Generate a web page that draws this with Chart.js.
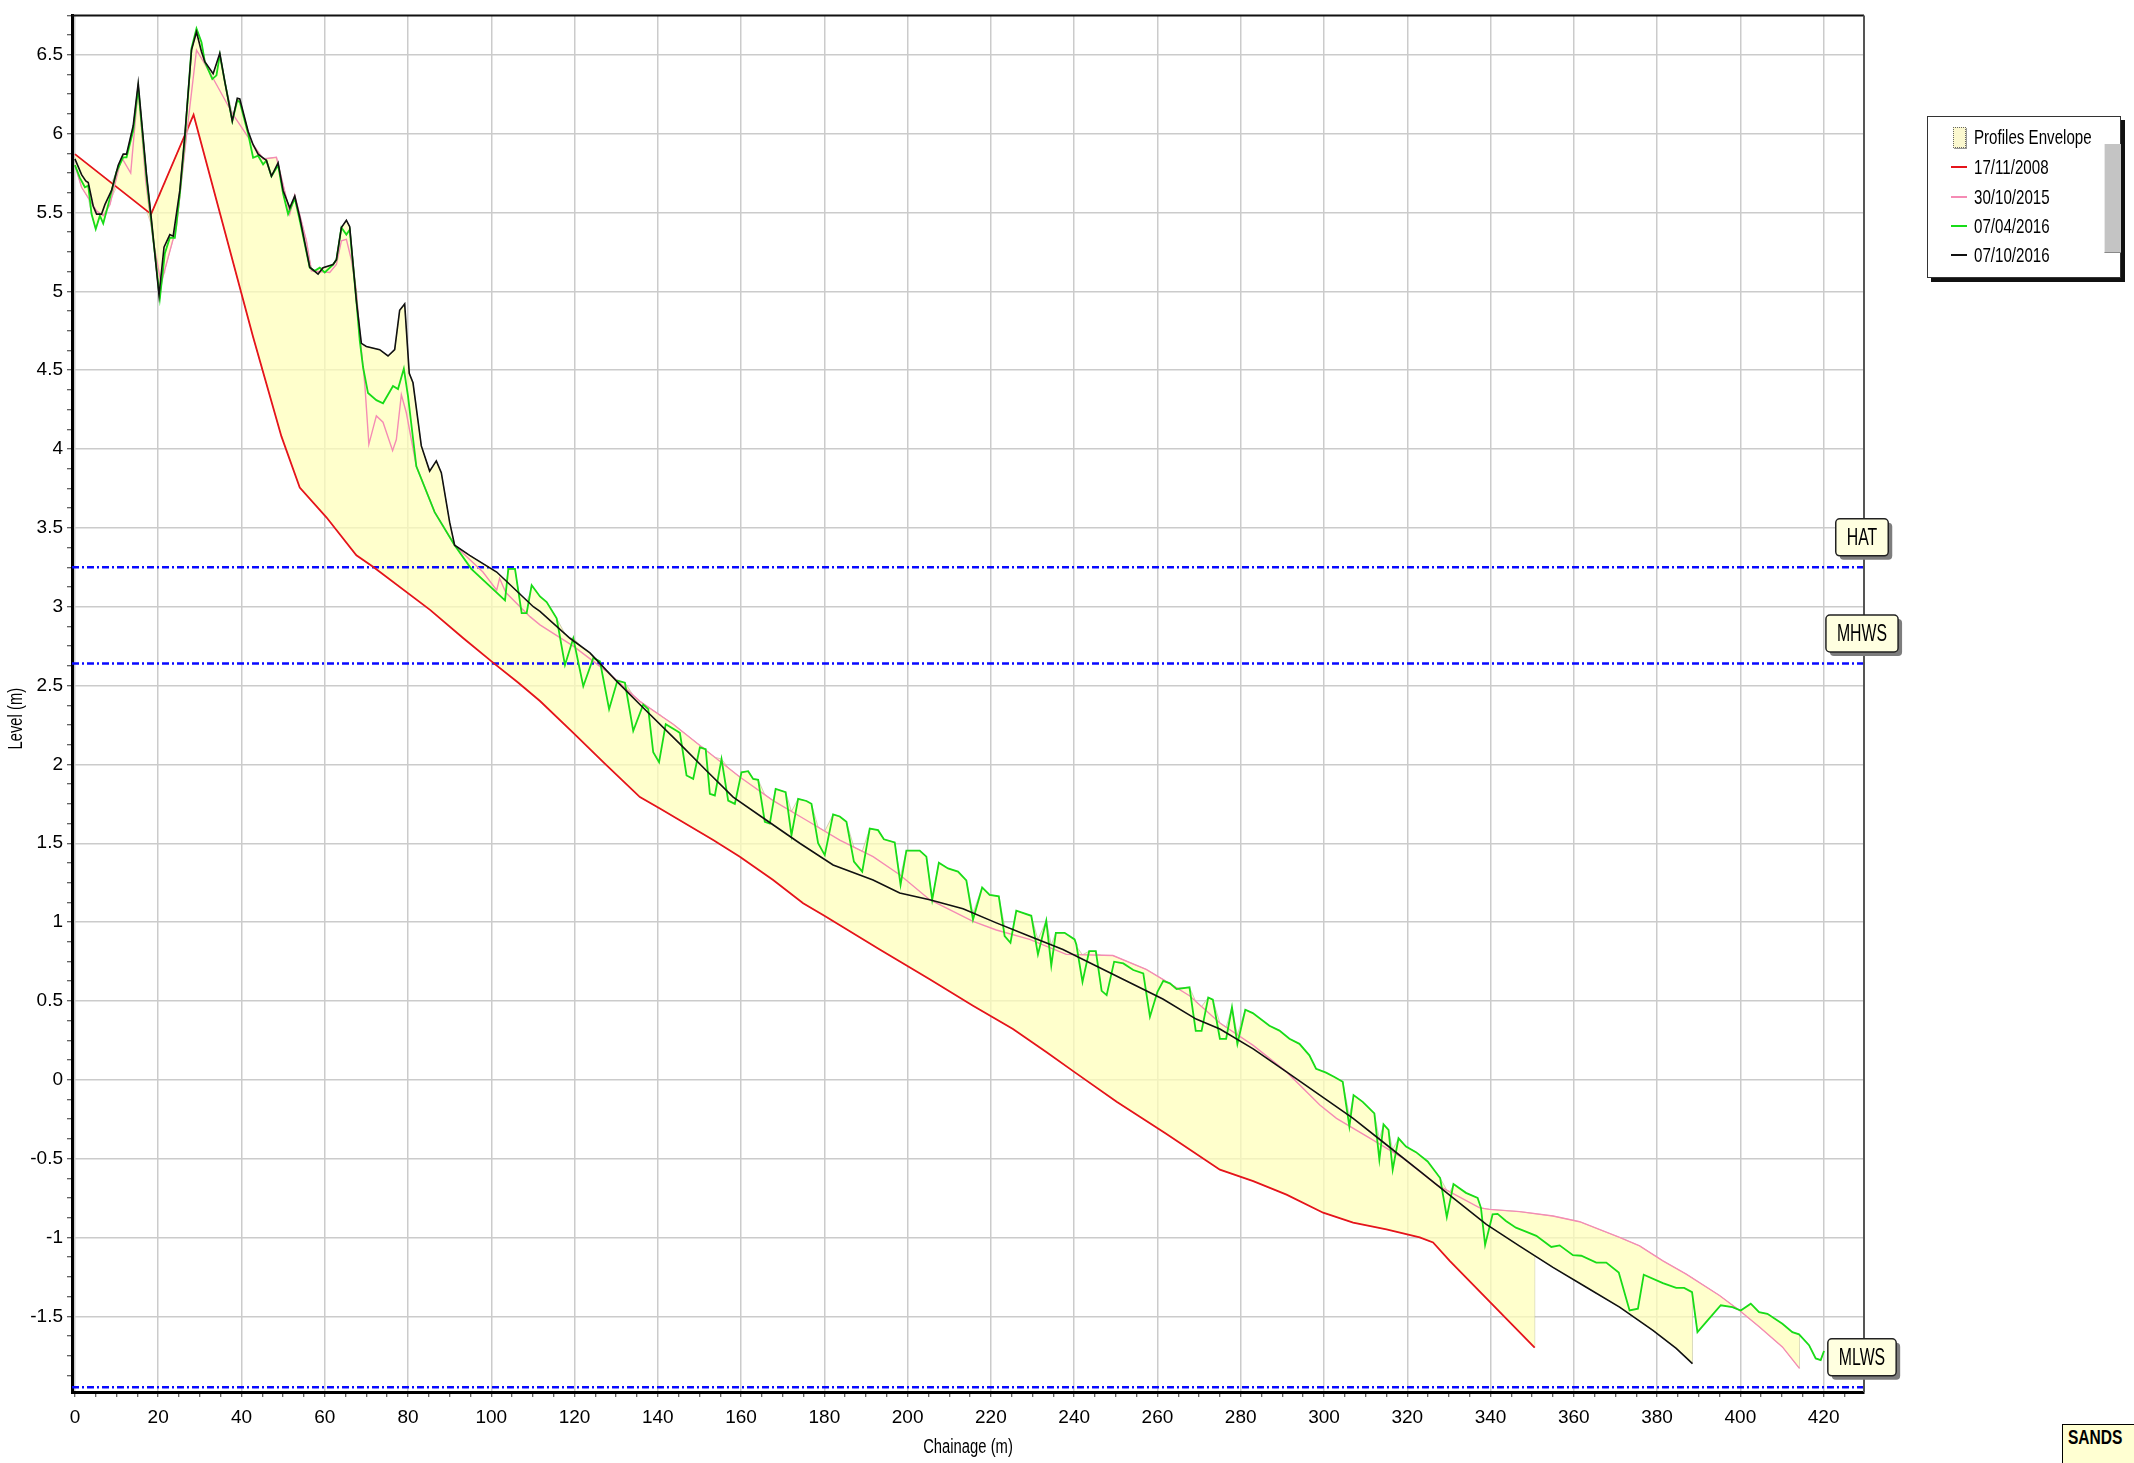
<!DOCTYPE html>
<html>
<head>
<meta charset="utf-8">
<title>Profiles Envelope</title>
<script src="https://cdn.jsdelivr.net/npm/chart.js@4.4.1/dist/chart.umd.min.js"></script>
<style>
  html, body { margin: 0; padding: 0; background: #fff; overflow: hidden; }
  #wrap { position: relative; width: 2134px; height: 1463px; overflow: hidden; }
  #chart { position: absolute; left: 0; top: 0; }
  .legend {
    position: absolute; left: 1927px; top: 116px; width: 192px; height: 160px;
    background: #fff; border: 1.5px solid #333; box-shadow: 4px 4px 0 #111;
    font: 21px 'Liberation Sans', Arial, sans-serif; color: #000;
  }
  .legend .row { position: absolute; left: 0; width: 190px; height: 26px; line-height: 26px; white-space: nowrap; }
  .legend .txt { position: absolute; left: 46px; top: 0; transform: scaleX(0.72); transform-origin: 0 50%; }
  .legend .line { position: absolute; left: 23px; top: 12px; width: 16px; height: 1.5px; }
  .legend .swatch {
    position: absolute; left: 25px; top: 3px; width: 11px; height: 19px;
    background: #fbf8cf; border: 1px dotted #666; box-shadow: 1px 1px 0 #999;
  }
  .legend .scroll {
    position: absolute; left: 176px; top: 27px; width: 16px; height: 108px;
    background: #c4c4c4; border-left: 1px solid #e8e8e8; border-bottom: 1px solid #888;
  }
  .sands {
    position: absolute; left: 2062px; top: 1424px; width: 90px; height: 44px;
    background: #ffffd2; border: 1.5px solid #000; box-sizing: border-box;
  }
  .sands span {
    position: absolute; left: 5px; top: 0; line-height: 42px;
    font: bold 21px 'Liberation Sans', Arial, sans-serif;
    transform: scaleX(0.74); transform-origin: 0 50%;
  }
</style>
</head>
<body>
<div id="wrap">
  <canvas id="chart" width="2134" height="1463"></canvas>
  <div class="legend" id="legend"></div>
  <div class="sands"><span>SANDS</span></div>
</div>
<script>
const FONT = "'Liberation Sans', Arial, sans-serif";

// Survey profiles: chainage (m) and level (m)
const chainage2008 = [0, 18.3, 28.5, 42.8, 49.6, 54, 60.4, 67.6, 71.6, 85.3, 93.3, 100.5, 106.5, 111.7, 119.7, 126.9,
  135.7, 140.5, 153.3, 159.7, 167.7, 174.9, 180, 193.3, 205.3, 215.7, 225.3, 233.3, 240.6, 250.2, 262, 275, 283, 291,
  299.8, 307, 315, 323, 326.2, 330.2, 350.6];
const level2008 = [5.87, 5.49, 6.12, 4.71, 4.08, 3.756, 3.567, 3.326, 3.253, 2.98, 2.80, 2.644, 2.518, 2.402, 2.20, 2.014,
  1.793, 1.72, 1.52, 1.415, 1.267, 1.12, 1.04, 0.826, 0.637, 0.470, 0.322, 0.176, 0.039, -0.14, -0.34, -0.57, -0.643, -0.728,
  -0.843, -0.906, -0.948, -1.0, -1.032, -1.148, -1.698];

const chainage2015 = [0, 1.6, 5.2, 6.8, 8.4, 11.2, 13.4, 15.2, 17, 18.8, 20.7, 24.4, 26.8, 29.2, 30.8, 33.2, 38, 42.8,
  45.2, 48.4, 50.8, 51.6, 52.8, 55.6, 56.8, 61.2, 62.8, 64, 65.2, 66.4, 67.6, 68.4, 69.6, 70.6, 72.4, 74, 76.3, 77.2,
  78.4, 79.6, 82, 86.4, 91.2, 98, 101.3, 102, 103.5, 109.3, 111.7, 119.7, 127.7, 135.7, 143.7, 151.7, 159.7, 167.7,
  175.7, 183.7, 191.7, 198.1, 205.3, 215.7, 221.3, 229.3, 238.1, 249.3, 257.3, 261.3, 267.7, 275, 283, 291, 299, 303,
  311, 319, 327, 337.4, 339.8, 347, 355, 361.4, 371, 375.8, 381.4, 387, 395, 399.8, 404.6, 410.1, 414.2];
const level2015 = [5.80, 5.66, 5.51, 5.48, 5.55, 5.85, 5.75, 6.29, 5.70, 5.32, 5.05, 5.41, 5.99, 6.53, 6.46, 6.35, 6.12, 5.93,
  5.84, 5.85, 5.59, 5.49, 5.61, 5.32, 5.13, 5.12, 5.17, 5.32, 5.33, 5.20, 5.0, 4.73, 4.42, 4.03, 4.21, 4.17, 3.99, 4.06,
  4.345, 4.23, 3.89, 3.60, 3.39, 3.22, 3.105, 3.18, 3.09, 2.937, 2.885, 2.75, 2.59, 2.40, 2.255, 2.087, 1.92, 1.77,
  1.646, 1.52, 1.415, 1.30, 1.142, 1.005, 0.95, 0.89, 0.795, 0.788, 0.70, 0.637, 0.533, 0.36, 0.218, 0.05, -0.16, -0.245,
  -0.37, -0.497, -0.665, -0.812, -0.822, -0.836, -0.864, -0.90, -1.0, -1.053, -1.148, -1.232, -1.368, -1.463, -1.568, -1.694, -1.83];

const chainageApr16 = [0, 1.2, 2.4, 3.2, 4, 5, 6, 6.8, 8, 10, 11.6, 12.4, 14, 15.2, 17.2, 18.4, 20.4, 21.6, 22.8, 24,
  25.2, 26.4, 28, 29.2, 30.4, 31.2, 33, 34, 34.8, 36, 37.8, 39, 39.6, 41.6, 42.8, 44, 45.2, 46, 47.2, 48.8, 50, 51.2,
  52.8, 54, 56.4, 57.6, 58.8, 60, 62, 62.8, 64, 65.2, 66, 67.6, 68.4, 69.2, 70.4, 72.4, 74, 76.4, 77.6, 79, 80, 82,
  86.4, 91.2, 95.2, 103.3, 104.1, 105.7, 107.3, 108.5, 109.7, 111.7, 113.3, 115.7, 117.7, 119.7, 122.1, 124.5, 126.1,
  128.3, 130.3, 132.1, 134.1, 136.5, 137.7, 138.9, 140.3, 141.9, 144.5, 145.3, 146.9, 148.5, 150.1, 151.5, 152.5,
  153.7, 155.3, 156.9, 158.5, 160.1, 161.7, 162.9, 164.1, 165.7, 166.9, 168.3, 170.7, 172.1, 173.7, 175.7, 176.9,
  178.5, 180.1, 182.1, 183.7, 185.3, 187.1, 189.1, 190.9, 192.9, 194.3, 196.9, 198.3, 199.7, 202.9, 204.5, 205.9,
  207.5, 209.7, 212.1, 214.1, 215.7, 217.9, 219.7, 221.9, 223.3, 224.7, 226.1, 229.7, 231.3, 233.3, 234.5, 235.6,
  237.7, 240.1, 240.5, 242, 243.6, 245.2, 246.6, 247.8, 249.6, 251.8, 254.2, 256.6, 258.2, 260, 261.4, 263, 264.6,
  267.7, 269.2, 270.6, 272.2, 273.3, 275, 276.5, 277.9, 279.2, 281.1, 282.9, 286.9, 289.3, 291.7, 294.1, 296.5, 298.1,
  300.5, 302.5, 304.5, 306.1, 307.1, 309.3, 312.1, 313.3, 314.3, 315.5, 316.5, 317.9, 319.7, 322.1, 324.9, 327.9,
  329.5, 331.1, 334.1, 336.9, 337.7, 338.7, 340.5, 341.7, 343.7, 346.1, 348.5, 351, 354.6, 356.6, 359.8, 361.8, 365.4,
  367.8, 370.8, 373.4, 375.4, 376.8, 381.4, 384.6, 386.5, 388.4, 389.7, 392.5, 395.3, 398.1, 400.1, 402.5, 404.5,
  406.5, 410.1, 412.5, 414.1, 416.5, 418.1, 419.3, 420.1];
const levelApr16 = [5.80, 5.72, 5.66, 5.67, 5.49, 5.395, 5.48, 5.43, 5.55, 5.76, 5.85, 5.85, 6.02, 6.29, 5.72, 5.43, 4.955,
  5.24, 5.34, 5.34, 5.62, 5.97, 6.54, 6.666, 6.58, 6.456, 6.346, 6.37, 6.50, 6.33, 6.08, 6.21, 6.2, 6.0, 5.847, 5.86,
  5.805, 5.83, 5.73, 5.80, 5.62, 5.49, 5.59, 5.45, 5.15, 5.13, 5.15, 5.12, 5.17, 5.2, 5.405, 5.36, 5.39, 4.94, 4.69,
  4.52, 4.355, 4.31, 4.29, 4.40, 4.38, 4.51, 4.335, 3.89, 3.60, 3.39, 3.24, 3.04, 3.24, 3.24, 2.96, 2.96, 3.137, 3.065,
  3.03, 2.927, 2.63, 2.80, 2.496, 2.675, 2.654, 2.35, 2.532, 2.518, 2.213, 2.38, 2.35, 2.077, 2.014, 2.255, 2.213, 2.20,
  1.93, 1.908, 2.108, 2.097, 1.814, 1.803, 2.034, 1.77, 1.75, 1.95, 1.957, 1.908, 1.902, 1.636, 1.625, 1.845, 1.824,
  1.55, 1.782, 1.768, 1.75, 1.50, 1.425, 1.683, 1.67, 1.636, 1.384, 1.32, 1.593, 1.583, 1.525, 1.505, 1.236, 1.453,
  1.453, 1.415, 1.142, 1.377, 1.34, 1.32, 1.264, 1.016, 1.22, 1.173, 1.163, 0.911, 0.869, 1.072, 1.04, 0.795, 1.009,
  0.725, 0.932, 0.932, 0.89, 0.86, 0.621, 0.816, 0.816, 0.564, 0.537, 0.749, 0.738, 0.696, 0.675, 0.40, 0.558, 0.627,
  0.612, 0.575, 0.586, 0.31, 0.31, 0.522, 0.508, 0.26, 0.26, 0.46, 0.228, 0.444, 0.423, 0.343, 0.312, 0.26, 0.228,
  0.155, 0.07, 0.045, 0.018, -0.013, -0.297, -0.097, -0.14, -0.213, -0.507, -0.283, -0.318, -0.57, -0.371, -0.423,
  -0.459, -0.518, -0.623, -0.871, -0.661, -0.717, -0.749, -0.812, -1.047, -0.853, -0.85, -0.895, -0.938, -0.963, -0.99,
  -1.06, -1.05, -1.112, -1.116, -1.159, -1.159, -1.222, -1.463, -1.452, -1.236, -1.29, -1.32, -1.32, -1.347, -1.6,
  -1.515, -1.43, -1.442, -1.463, -1.42, -1.474, -1.484, -1.547, -1.6, -1.614, -1.683, -1.767, -1.778, -1.72];

const chainageOct16 = [0, 1.6, 2.6, 3.2, 4.4, 5.2, 6.4, 7.2, 8.8, 10.4, 11.6, 12.4, 14, 15.2, 17.2, 18.4, 20.2, 21.4,
  22.8, 23.6, 25.2, 26.4, 28, 29.2, 30.4, 31.2, 33.2, 34.8, 36, 37.8, 39, 39.6, 41.6, 42.8, 44, 46, 47.2, 48.8, 50,
  51.6, 52.8, 54, 56.4, 58.4, 59.6, 62, 62.8, 64, 65.2, 66, 67.6, 68.8, 70, 73.2, 75.2, 76.8, 78, 79.2, 80.3, 81.2,
  83.2, 85.2, 86.8, 88, 90, 91.2, 94.8, 101.3, 103.7, 110.1, 111.7, 118.9, 123.7, 130.1, 135.7, 145.3, 151.7, 158.1,
  166.1, 174.1, 182.1, 191.7, 198.1, 205.3, 213.3, 221.3, 229.3, 237.3, 245.3, 253.3, 261.3, 269.3, 275, 283, 291,
  299, 307, 315, 323, 331, 339, 347, 355, 363, 371, 379, 384.6, 388.5];
const levelOct16 = [5.84, 5.74, 5.70, 5.69, 5.54, 5.49, 5.49, 5.55, 5.64, 5.80, 5.87, 5.87, 6.05, 6.32, 5.74, 5.45, 4.975,
  5.28, 5.36, 5.35, 5.64, 5.99, 6.53, 6.645, 6.52, 6.456, 6.38, 6.51, 6.33, 6.08, 6.225, 6.22, 6.015, 5.93, 5.87, 5.83,
  5.73, 5.815, 5.64, 5.53, 5.605, 5.47, 5.153, 5.11, 5.15, 5.17, 5.2, 5.405, 5.45, 5.41, 4.94, 4.67, 4.65, 4.63, 4.59,
  4.63, 4.88, 4.92, 4.48, 4.42, 4.02, 3.86, 3.925, 3.85, 3.536, 3.39, 3.326, 3.22, 3.16, 3.00, 2.97, 2.80, 2.707, 2.528,
  2.38, 2.13, 1.96, 1.793, 1.646, 1.50, 1.362, 1.267, 1.184, 1.142, 1.085, 0.995, 0.91, 0.826, 0.722, 0.617, 0.512,
  0.385, 0.322, 0.196, 0.05, -0.097, -0.245, -0.412, -0.58, -0.749, -0.917, -1.055, -1.19, -1.316, -1.442, -1.589,
  -1.704, -1.80];

// Tidal levels (m)
const refNames = ['HAT', 'MHWS', 'MLWS'];
const refLevels = [3.25, 2.64, -1.95];

// Axis ranges
const xMin = -0.7, xMax = 429.7, yMin = -1.98, yMax = 6.75;

const profiles = [
  { label: '17/11/2008', xs: chainage2008, ys: level2008, color: '#e5141b', width: 1.8, order: 4 },
  { label: '30/10/2015', xs: chainage2015, ys: level2015, color: '#f58bb4', width: 1.4, order: 3 },
  { label: '07/04/2016', xs: chainageApr16, ys: levelApr16, color: '#18dc18', width: 1.8, order: 2 },
  { label: '07/10/2016', xs: chainageOct16, ys: levelOct16, color: '#111111', width: 1.6, order: 1 }
];

const toPoints = (xs, ys) => xs.map((x, i) => ({ x, y: ys[i] }));

// Level of a profile at chainage c, null outside the surveyed range
function levelAt(p, c) {
  const xs = p.xs, ys = p.ys;
  if (c < xs[0] || c > xs[xs.length - 1]) return null;
  for (let i = 0; i < xs.length - 1; i++) {
    if (c >= xs[i] && c <= xs[i + 1]) {
      const t = (c - xs[i]) / (xs[i + 1] - xs[i]);
      return ys[i] + t * (ys[i + 1] - ys[i]);
    }
  }
  return ys[ys.length - 1];
}

// Envelope = highest and lowest of the profiles at every surveyed chainage
function buildEnvelope() {
  let cs = [];
  profiles.forEach(p => {
    cs.push(...p.xs);
    cs.push(p.xs[p.xs.length - 1] + 0.01);
  });
  cs = [...new Set(cs)].sort((a, b) => a - b);
  const upper = [], lower = [];
  cs.forEach(c => {
    const vals = profiles.map(p => levelAt(p, c)).filter(v => v !== null);
    if (!vals.length) return;
    upper.push({ x: c, y: Math.max(...vals) });
    lower.push({ x: c, y: Math.min(...vals) });
  });
  return { upper, lower };
}

const env = buildEnvelope();

const datasets = [
  { label: 'Profiles Envelope', data: env.upper, fill: '+1', backgroundColor: 'rgba(255,255,185,0.72)',
    borderColor: 'rgba(170,170,140,0.55)', borderWidth: 1, order: 10 },
  { label: 'env-low', data: env.lower, fill: false, borderColor: 'rgba(170,170,140,0.55)', borderWidth: 1, order: 10 }
];
refLevels.forEach((v, i) => {
  datasets.push({ label: refNames[i], data: [{ x: xMin, y: v }, { x: xMax, y: v }], borderColor: '#0a0aff',
    borderWidth: 2.5, borderDash: [7, 3, 2, 3], fill: false, order: 5 });
});
profiles.forEach(p => {
  datasets.push({ label: p.label, data: toPoints(p.xs, p.ys), borderColor: p.color, borderWidth: p.width,
    fill: false, order: p.order });
});

const isMultiple = (v, step) => Math.abs(v / step - Math.round(v / step)) < 1e-6;

// text squeezed horizontally, like the narrow lettering of the original
function narrowText(ctx, text, x, y, squeeze, angle) {
  ctx.save();
  ctx.translate(x, y);
  if (angle) ctx.rotate(angle);
  ctx.scale(squeeze, 1);
  ctx.fillText(text, 0, 0);
  ctx.restore();
}

// Frame, axis titles and tidal level tags
const decor = {
  id: 'decor',
  afterDraw(chart) {
    const { ctx, chartArea: a, scales: { y } } = chart;
    ctx.save();
    ctx.lineWidth = 2;
    ctx.strokeStyle = '#111';
    ctx.beginPath(); ctx.moveTo(a.left, a.top); ctx.lineTo(a.right, a.top); ctx.stroke();
    ctx.strokeStyle = '#555';
    ctx.beginPath(); ctx.moveTo(a.right, a.top); ctx.lineTo(a.right, a.bottom); ctx.stroke();

    ctx.fillStyle = '#000';
    ctx.textAlign = 'center';
    ctx.textBaseline = 'middle';
    ctx.font = '20px ' + FONT;
    narrowText(ctx, 'Chainage (m)', (a.left + a.right) / 2, 1447, 0.74);
    narrowText(ctx, 'Level (m)', 16, (a.top + a.bottom) / 2 + 15, 0.74, -Math.PI / 2);

    ctx.font = '24px ' + FONT;
    refNames.forEach((name, i) => {
      const cy = y.getPixelForValue(refLevels[i]) - 30;
      const w = ctx.measureText(name).width * 0.66 + 22, h = 37;
      const bx = a.right - 2 - w / 2, by = cy - h / 2;
      ctx.fillStyle = '#7d7d7d';
      ctx.beginPath(); ctx.roundRect(bx + 4, by + 4, w, h, 4); ctx.fill();
      ctx.fillStyle = '#ffffe0';
      ctx.beginPath(); ctx.roundRect(bx, by, w, h, 4); ctx.fill();
      ctx.strokeStyle = '#222'; ctx.lineWidth = 1.5; ctx.stroke();
      ctx.fillStyle = '#000';
      narrowText(ctx, name, bx + w / 2, cy + 1, 0.66);
    });
    ctx.restore();
  }
};

new Chart(document.getElementById('chart'), {
  type: 'line',
  data: { datasets },
  options: {
    responsive: false,
    animation: false,
    devicePixelRatio: 1,
    elements: { point: { radius: 0, hoverRadius: 0 }, line: { tension: 0 } },
    layout: { padding: { left: 0, top: 6, right: 270, bottom: 0 } },
    plugins: { legend: { display: false }, tooltip: { enabled: false } },
    scales: {
      x: {
        type: 'linear', min: xMin, max: xMax,
        ticks: {
          stepSize: 5, maxTicksLimit: 1000, autoSkip: false, maxRotation: 0, includeBounds: false,
          padding: 9, color: '#000', font: { family: FONT, size: 19 },
          callback: v => (isMultiple(v, 20) ? String(Math.round(v)) : '')
        },
        grid: {
          color: c => (c.tick && isMultiple(c.tick.value, 20) ? '#cbcbcb' : 'rgba(0,0,0,0)'),
          lineWidth: 1.5, tickLength: 5, tickColor: '#333', tickWidth: 1
        },
        border: { display: true, color: '#000', width: 3 },
        afterFit: s => { s.height = 71; }
      },
      y: {
        type: 'linear', min: yMin, max: yMax,
        ticks: {
          stepSize: 0.125, maxTicksLimit: 1000, autoSkip: false, includeBounds: false,
          padding: 4, color: '#000', font: { family: FONT, size: 19 },
          callback: v => (isMultiple(v, 0.5) ? String(Math.round(v * 10) / 10) : '')
        },
        grid: {
          color: c => (c.tick && isMultiple(c.tick.value, 0.5) ? '#cbcbcb' : 'rgba(0,0,0,0)'),
          lineWidth: 1.5, tickLength: 5, tickColor: '#333', tickWidth: 1
        },
        border: { display: true, color: '#000', width: 3 },
        afterFit: s => { s.width = 72; }
      }
    }
  },
  plugins: [decor]
});

// HTML legend built from the same profile list
const legend = document.getElementById('legend');
const rowCentres = [20, 50, 80, 109, 138];
const envRow = document.createElement('div');
envRow.className = 'row';
envRow.style.top = (rowCentres[0] - 13) + 'px';
envRow.innerHTML = '<span class="swatch"></span><span class="txt">Profiles Envelope</span>';
legend.appendChild(envRow);
profiles.forEach((p, i) => {
  const row = document.createElement('div');
  row.className = 'row';
  row.style.top = (rowCentres[i + 1] - 13) + 'px';
  row.innerHTML = '<span class="line" style="background:' + p.color + '"></span><span class="txt">' + p.label + '</span>';
  legend.appendChild(row);
});
const scroll = document.createElement('div');
scroll.className = 'scroll';
legend.appendChild(scroll);
</script>
</body>
</html>
